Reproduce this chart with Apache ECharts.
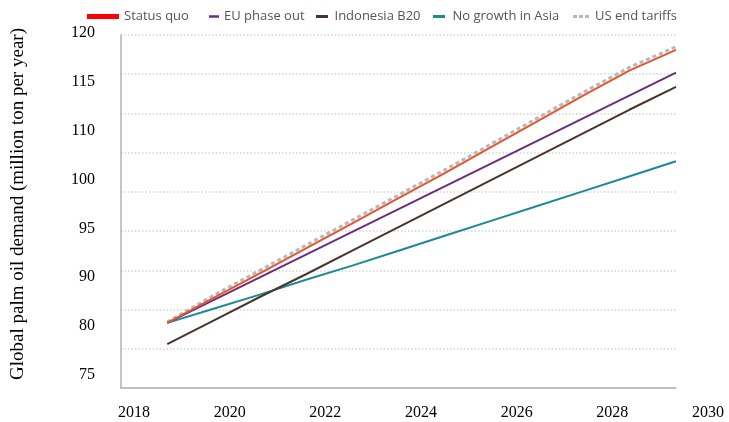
<!DOCTYPE html>
<html>
<head>
<meta charset="utf-8">
<script src="https://cdn.jsdelivr.net/npm/echarts@6/dist/echarts.min.js"></script>
<style>
  html, body { margin: 0; padding: 0; background: #fff; }
  #chart { width: 729px; height: 422px; }
</style>
</head>
<body>
<div id="chart"></div>
<script>
// Projection years
const years = [2019, 2020, 2021, 2022, 2023, 2024, 2025, 2026, 2027, 2028, 2029, 2030];

// Global palm oil demand by scenario (million ton per year)
const statusQuo      = [83.3, 86.5, 89.6, 92.8, 96.0, 99.2, 102.4, 105.7, 109.0, 112.3, 115.5, 118.1];
const euPhaseOut     = [83.3, 86.2, 89.1, 92.0, 94.9, 97.8, 100.7, 103.6, 106.5, 109.4, 112.3, 115.2];
const indonesiaB20   = [80.6, 83.6, 86.6, 89.5, 92.5, 95.5, 98.5, 101.5, 104.5, 107.5, 110.5, 113.4];
const noGrowthAsia   = [83.3, 85.1, 86.9, 88.8, 90.6, 92.5, 94.4, 96.3, 98.2, 100.1, 102.0, 103.9];
const usEndTariffs   = [83.4, 86.8, 90.0, 93.2, 96.4, 99.6, 102.8, 106.1, 109.4, 112.7, 115.9, 118.5];

// Axis tick labels printed beside the plot
const yTickLabels = ['75', '80', '90', '95', '100', '110', '115', '120'];
const xTickLabels = ['2018', '2020', '2022', '2024', '2026', '2028', '2030'];

const pair = (vals) => years.map((y, i) => [y, vals[i]]);

const chart = echarts.init(document.getElementById('chart'), null, { renderer: 'canvas' });

const serif = '"Liberation Serif", "Times New Roman", serif';
const legendText = { fontFamily: '"Open Sans", sans-serif', fontSize: 13, color: '#555' };

// Legend keys: a short bar for solid lines, three dashes for the dashed line
const barIcon = 'path://M0,0h12v3h-12z';
const dashIcon = 'path://M0,0h4v3h-4z M6,0h4v3h-4z M12,0h4v3h-4z';

// One legend block per entry so every key sits at its own spot in the header row
const legendItem = (name, icon, color, left, width, height) => ({
  data: [{ name: name, icon: icon, itemStyle: { color: color } }],
  left: left,
  top: 5,
  itemWidth: width,
  itemHeight: height,
  textStyle: legendText,
  selectedMode: false
});

const lineSeries = (name, vals, color, extra) => Object.assign({
  name: name,
  type: 'line',
  xAxisIndex: 0,
  yAxisIndex: 0,
  data: pair(vals),
  symbol: 'none',
  smooth: false,
  lineStyle: { color: color, width: 2 },
  itemStyle: { color: color },
  emphasis: { disabled: true },
  animation: false
}, extra || {});

chart.setOption({
  animation: false,
  backgroundColor: '#fff',
  legend: [
    legendItem('Status quo', 'rect', '#ff0000', 82, 32, 5),
    legendItem('EU phase out', barIcon, '#6b2d7e', 204, 10, 3),
    legendItem('Indonesia B20', barIcon, '#4a342b', 311, 15, 3),
    legendItem('No growth in Asia', barIcon, '#1b8a94', 428, 17, 3),
    legendItem('US end tariffs', dashIcon, '#b8b8b8', 568, 18, 3)
  ],
  grid: [
    { left: 121, right: 53, top: 35, bottom: 34 },
    { left: 134, right: 21, top: 33, bottom: 47 }
  ],
  xAxis: [
    {
      gridIndex: 0,
      type: 'value',
      min: 2018,
      max: 2030,
      interval: 1,
      axisLine: { show: true, lineStyle: { color: '#b0b0b0', width: 1.5 } },
      axisTick: { show: false },
      axisLabel: { show: false },
      splitLine: { show: false }
    },
    {
      gridIndex: 1,
      type: 'value',
      min: 2018,
      max: 2030,
      interval: 2,
      axisLine: { show: false },
      axisTick: { show: false },
      splitLine: { show: false },
      axisLabel: {
        margin: 30,
        fontFamily: serif,
        fontSize: 16,
        color: '#000',
        formatter: (v) => xTickLabels[(v - 2018) / 2]
      }
    }
  ],
  yAxis: [
    {
      gridIndex: 0,
      type: 'value',
      min: 75,
      max: 120,
      interval: 5,
      axisLine: { show: true, lineStyle: { color: '#b0b0b0', width: 1.5 } },
      axisTick: { show: false },
      axisLabel: { show: false },
      splitLine: { show: true, lineStyle: { color: '#d4d4d4', width: 1.5, type: [1.5, 2] } }
    },
    {
      gridIndex: 1,
      type: 'value',
      min: 0,
      max: 7,
      interval: 1,
      axisLine: { show: false },
      axisTick: { show: false },
      splitLine: { show: false },
      axisLabel: {
        margin: 39,
        fontFamily: serif,
        fontSize: 16,
        color: '#000',
        formatter: (v) => yTickLabels[v]
      },
      name: 'Global palm oil demand (million ton per year)',
      nameLocation: 'middle',
      nameRotate: 90,
      nameGap: 106,
      nameTextStyle: { fontFamily: serif, fontSize: 19, color: '#000' }
    }
  ],
  series: [
    lineSeries('US end tariffs', usEndTariffs, '#b8b8b8', {
      lineStyle: { color: '#b8b8b8', width: 3, type: [4, 3] }
    }),
    lineSeries('No growth in Asia', noGrowthAsia, '#1b8a94'),
    lineSeries('Indonesia B20', indonesiaB20, '#4a342b'),
    lineSeries('EU phase out', euPhaseOut, '#6b2d7e'),
    lineSeries('Status quo', statusQuo, '#e4572e')
  ]
});
</script>
</body>
</html>
